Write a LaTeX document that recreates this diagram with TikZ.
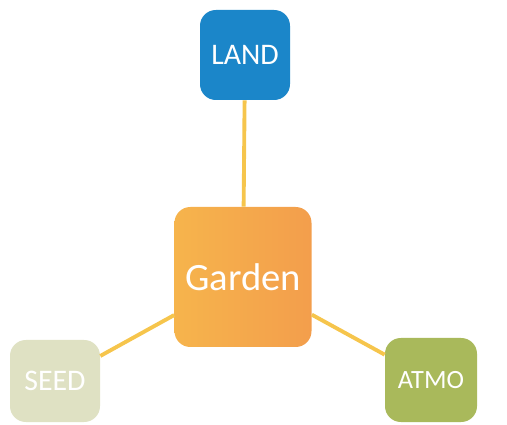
\documentclass[tikz,border=0pt]{standalone}
\usepackage{fontspec}
\setmainfont{Carlito}
\definecolor{landblue}{HTML}{1B86C9}
\definecolor{gardenA}{HTML}{F6B44C}
\definecolor{gardenB}{HTML}{F39E4C}
\definecolor{seedgreen}{HTML}{DFE1C3}
\definecolor{atmogreen}{HTML}{A9B95B}
\definecolor{linkyellow}{HTML}{F6C54C}
\begin{document}
\begin{tikzpicture}[x=0.02cm, y=-0.02cm]
\useasboundingbox (0,0) rectangle (507,425);
\tikzstyle{every node}=[rectangle, rounded corners=9pt, text=white, inner sep=0pt, font=\fontsize{17}{19}\selectfont];
\node [fill=landblue, minimum width=90*0.02cm, minimum height=90*0.02cm] (v0) at (245, 55) {LAND};
\node [left color=gardenA, right color=gardenB, minimum width=137*0.02cm, minimum height=140*0.02cm, font=\fontsize{22}{26}\selectfont] (v1) at (243, 277) {Garden};
\node [fill=seedgreen, minimum width=90*0.02cm, minimum height=82*0.02cm] (v2) at (55, 381) {SEED};
\node [fill=atmogreen, minimum width=92*0.02cm, minimum height=84*0.02cm, font=\fontsize{15}{17}\selectfont] (v3) at (431, 380) {ATMO};
\draw [linkyellow, line width=2.2pt] (v0) -- (v1)
(v1) -- (v2)
(v1) -- (v3)
;
\end{tikzpicture}
\end{document}
